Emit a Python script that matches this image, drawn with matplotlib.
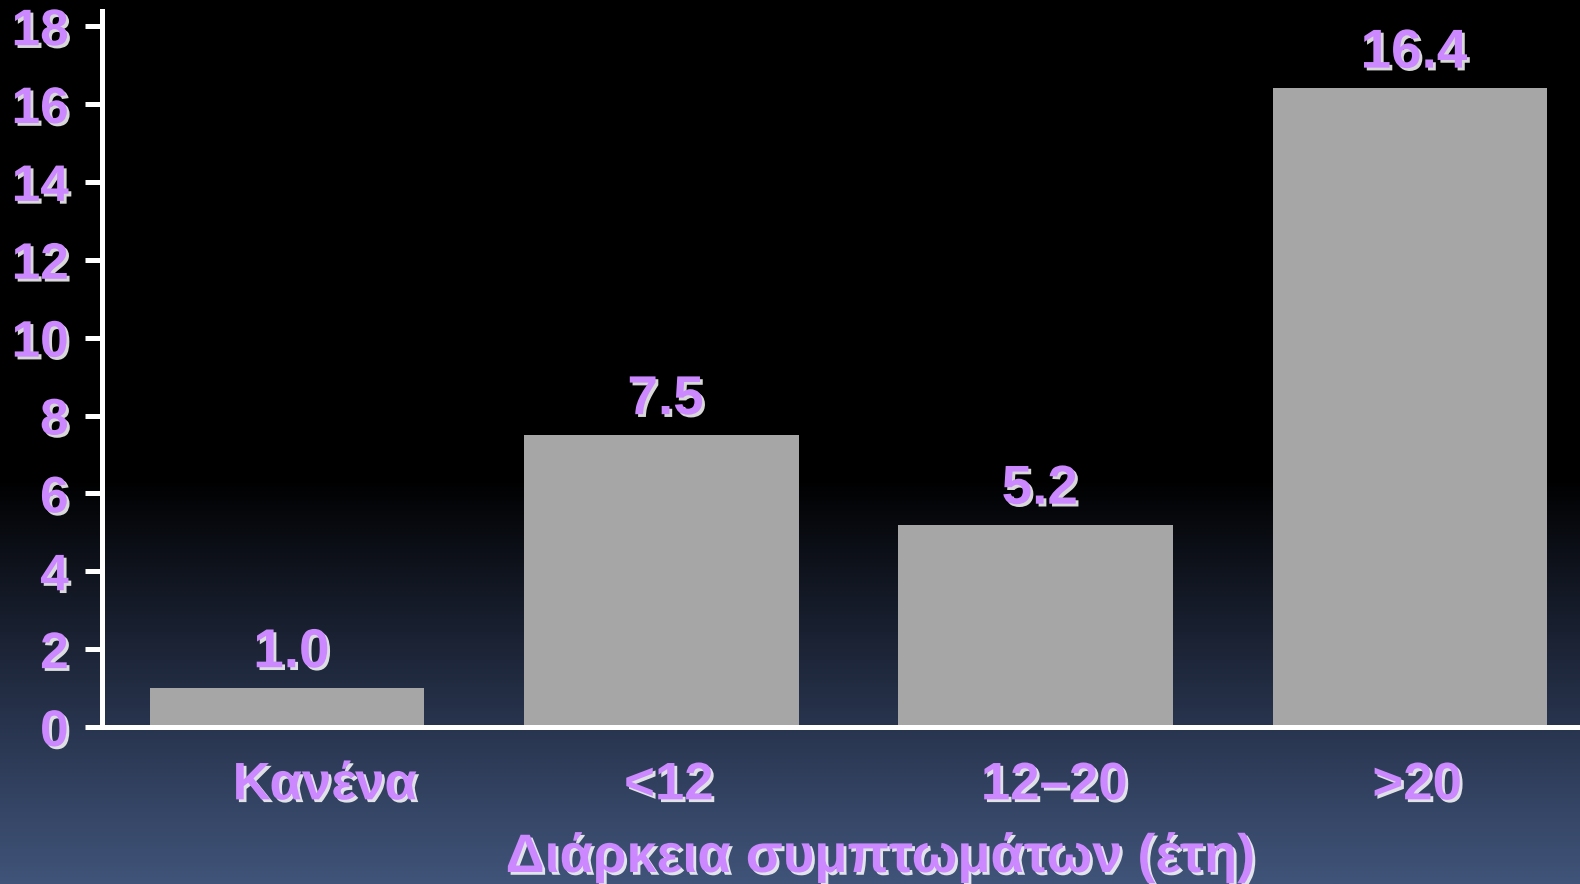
import matplotlib.pyplot as plt
import matplotlib.patheffects as pe
import numpy as np
from matplotlib.colors import LinearSegmentedColormap

# 数据
categories = ['Κανένα', '<12', '12–20', '>20']
values = [1.0, 7.5, 5.2, 16.4]
yticks = [0, 2, 4, 6, 8, 10, 12, 14, 16, 18]
xlabel = 'Διάρκεια συμπτωμάτων (έτη)'

plt.rcParams['font.family'] = ['Liberation Sans', 'DejaVu Sans']
plt.rcParams['font.weight'] = 'bold'

txt_color = '#cc88ff'
# 白色阴影
shadow = [pe.SimplePatchShadow(offset=(2, -2), shadow_rgbFace='white', alpha=0.85), pe.Normal()]

fig = plt.figure(figsize=(15.8, 8.84), dpi=100)

# 背景渐变：上黑下蓝
bg = fig.add_axes([0, 0, 1, 1])
cmap = LinearSegmentedColormap.from_list('bg', [(0, '#000000'), (0.54, '#000000'), (0.82, '#28344e'), (1, '#405479')])
grad = np.linspace(0, 1, 512).reshape(-1, 1)
bg.imshow(grad, aspect='auto', cmap=cmap, extent=[0, 1, 0, 1], origin='upper')
bg.axis('off')

ax = fig.add_axes([102 / 1580, 1 - 727 / 884, 1 - 102 / 1580, (727 - 11) / 884])
ax.patch.set_alpha(0)

x = np.arange(len(categories))
ax.bar(x, values, width=0.733, color='#a6a6a6', zorder=2)

# 数值标签
for xi, v in zip(x, values):
    ax.annotate('%.1f' % v, (xi, v), xytext=(3, 15), textcoords='offset points',
                ha='center', va='baseline', fontsize=39.5, color=txt_color,
                path_effects=shadow)

ax.set_xlim(-0.495, 3.455)
ax.set_ylim(0, 18.39)
ax.set_yticks(yticks)
ax.set_yticklabels([str(t) for t in yticks], fontsize=37, color=txt_color)
for lab in ax.get_yticklabels():
    lab.set_path_effects(shadow)
ax.tick_params(axis='y', length=12, width=3.6, color='white', pad=12)

ax.set_xticks(x + np.array([0.1, 0.02, 0.05, 0.02]))
ax.set_xticklabels(categories, fontsize=38, color=txt_color)
for lab in ax.get_xticklabels():
    lab.set_path_effects(shadow)
ax.tick_params(axis='x', length=0, pad=24)

for s in ['top', 'right']:
    ax.spines[s].set_visible(False)
for s in ['left', 'bottom']:
    ax.spines[s].set_color('white')
    ax.spines[s].set_linewidth(3.6)
    ax.spines[s].set_zorder(3)

fig.text(880 / 1580, 12 / 884, xlabel, ha='center', va='baseline', fontsize=39,
         color=txt_color, fontweight='bold', path_effects=shadow)

fig.savefig('out.png', dpi=100)
